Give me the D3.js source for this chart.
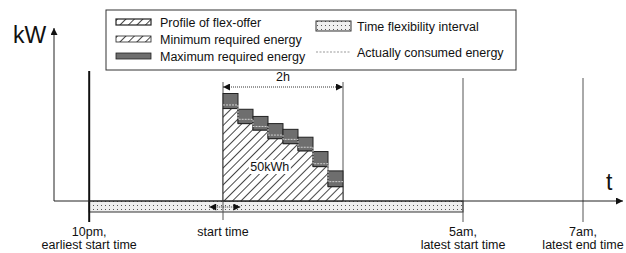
<!DOCTYPE html>
<html>
<head>
<meta charset="utf-8">
<script src="https://cdn.jsdelivr.net/npm/d3@7"></script>
<style>
  body { margin: 0; background: #fff; }
  text { font-family: "Liberation Sans", Arial, sans-serif; fill: #111; }
</style>
</head>
<body>
<script>
// flex-offer profile, 8 slices of 15 minutes (hours from start time)
var slices = [0, 0.25, 0.5, 0.75, 1, 1.25, 1.5, 1.75]
var minEnergy = [6.45, 5.4, 4.95, 4.35, 4.0, 3.5, 2.4, 1.0]
var maxEnergy = [7.5, 6.4, 5.9, 5.4, 5.0, 4.45, 3.45, 2.1]
var actualEnergy = [6.7, 5.7, 5.2, 4.6, 4.3, 3.75, 2.6, 1.35]

// time marks (hours from start time, schematic)
var tickHours = [-2.23, 0, 4, 6]
var tickLabels = [["10pm,", "earliest start time"], ["start time"], ["5am,", "latest start time"], ["7am,", "latest end time"]]

var legendLeft = ["Profile of flex-offer", "Minimum required energy", "Maximum required energy"]
var legendRight = ["Time flexibility interval", "Actually consumed energy"]

var width = 626, height = 253
var svg = d3.select("body").append("svg")
    .attr("width", width)
    .attr("height", height)

var x = d3.scaleLinear().domain([0, 6]).range([223, 583])
var y = d3.scaleLinear().domain([0, 12]).range([201, 29])
var step = 0.25

var defs = svg.append("defs")
var hatch = defs.append("pattern")
    .attr("id", "hatch")
    .attr("patternUnits", "userSpaceOnUse")
    .attr("width", 6).attr("height", 6)
    .attr("patternTransform", "rotate(45)")
hatch.append("rect").attr("width", 6).attr("height", 6).attr("fill", "#fff")
hatch.append("line").attr("x1", 0.5).attr("y1", 0).attr("x2", 0.5).attr("y2", 6)
    .attr("stroke", "#333").attr("stroke-width", 0.9)

var dots = defs.append("pattern")
    .attr("id", "dots")
    .attr("patternUnits", "userSpaceOnUse")
    .attr("width", 4).attr("height", 4)
dots.append("rect").attr("width", 4).attr("height", 4).attr("fill", "#efefef")
dots.append("rect").attr("x", 1).attr("y", 1).attr("width", 1).attr("height", 1).attr("fill", "#555")

var marker = function (id, dir) {
  defs.append("marker")
      .attr("id", id)
      .attr("viewBox", "0 0 10 10")
      .attr("refX", dir > 0 ? 10 : 0).attr("refY", 5)
      .attr("markerWidth", 11).attr("markerHeight", 7)
      .attr("markerUnits", "userSpaceOnUse")
      .attr("orient", "auto")
    .append("path")
      .attr("d", dir > 0 ? "M0,0L10,5L0,10Z" : "M10,0L0,5L10,10Z")
      .attr("fill", "#111")
}
marker("arrEnd", 1)
marker("arrStart", -1)

// time flexibility band
svg.append("rect")
    .attr("x", x(tickHours[0])).attr("y", y(0))
    .attr("width", x(tickHours[2]) - x(tickHours[0])).attr("height", 11)
    .attr("fill", "url(#dots)")
    .attr("stroke", "#333").attr("stroke-width", 1)

// vertical time lines
svg.append("line")
    .attr("x1", x(tickHours[0])).attr("x2", x(tickHours[0]))
    .attr("y1", 71).attr("y2", 222)
    .attr("stroke", "#111").attr("stroke-width", 2)
svg.selectAll(".vline")
    .data(tickHours.slice(2))
    .enter().append("line")
    .attr("x1", function (d) { return x(d) }).attr("x2", function (d) { return x(d) })
    .attr("y1", 78).attr("y2", 222)
    .attr("stroke", "#555").attr("stroke-width", 1)
svg.append("line")
    .attr("x1", x(0)).attr("x2", x(0))
    .attr("y1", 82).attr("y2", 220)
    .attr("stroke", "#555").attr("stroke-width", 1)
svg.append("line")
    .attr("x1", x(2)).attr("x2", x(2))
    .attr("y1", 82).attr("y2", y(0))
    .attr("stroke", "#555").attr("stroke-width", 1)

// hatched minimum profile
var area = d3.area()
    .x(function (d) { return x(d[0]) })
    .y0(y(0))
    .y1(function (d) { return y(d[1]) })
    .curve(d3.curveStepAfter)
var minPts = slices.map(function (s, i) { return [s, minEnergy[i]] })
minPts.push([2, minEnergy[minEnergy.length - 1]])
svg.append("path")
    .attr("d", area(minPts))
    .attr("fill", "url(#hatch)")
    .attr("stroke", "#333").attr("stroke-width", 1)

// maximum energy boxes
svg.selectAll(".maxbox")
    .data(slices)
    .enter().append("rect")
    .attr("x", function (d) { return x(d) })
    .attr("y", function (d, i) { return y(maxEnergy[i]) })
    .attr("width", x(step) - x(0))
    .attr("height", function (d, i) { return y(minEnergy[i]) - y(maxEnergy[i]) })
    .attr("fill", "#6e6e6e")
    .attr("stroke", "#222").attr("stroke-width", 1)

// actually consumed energy
var line = d3.line()
    .x(function (d) { return x(d[0]) })
    .y(function (d) { return y(d[1]) })
    .curve(d3.curveStepAfter)
var actPts = slices.map(function (s, i) { return [s, actualEnergy[i]] })
actPts.push([2, actualEnergy[actualEnergy.length - 1]])
svg.append("path")
    .attr("d", line(actPts))
    .attr("fill", "none")
    .attr("stroke", "#d0d0d0").attr("stroke-width", 1)
    .attr("stroke-dasharray", "2,1")

// 50kWh label
var lbl = svg.append("g").attr("transform", "translate(" + x(0.78) + "," + 171 + ")")
lbl.append("rect").attr("x", -21).attr("y", -11).attr("width", 42).attr("height", 14).attr("fill", "#fff")
lbl.append("text").attr("text-anchor", "middle").attr("font-size", 12.5).text("50kWh")

// 2h arrow
svg.append("line")
    .attr("x1", x(0)).attr("x2", x(2))
    .attr("y1", 87).attr("y2", 87)
    .attr("stroke", "#333").attr("stroke-dasharray", "1,1")
    .attr("marker-start", "url(#arrStart)").attr("marker-end", "url(#arrEnd)")
svg.append("text")
    .attr("x", x(1)).attr("y", 81)
    .attr("text-anchor", "middle").attr("font-size", 12.5)
    .text("2h")

// start time flexibility arrow
svg.append("line")
    .attr("x1", x(-0.23)).attr("x2", x(0.29))
    .attr("y1", 207).attr("y2", 207)
    .attr("stroke", "#333").attr("stroke-dasharray", "1,1")
    .attr("marker-start", "url(#arrStart)").attr("marker-end", "url(#arrEnd)")

// axes
svg.append("line")
    .attr("x1", 54).attr("x2", 623)
    .attr("y1", y(0)).attr("y2", y(0))
    .attr("stroke", "#222").attr("stroke-width", 1)
    .attr("marker-end", "url(#arrEnd)")
svg.append("line")
    .attr("x1", 54).attr("x2", 54)
    .attr("y1", y(0)).attr("y2", 28)
    .attr("stroke", "#222").attr("stroke-width", 1)
    .attr("marker-end", "url(#arrEnd)")
svg.append("text").attr("x", 13).attr("y", 43).attr("font-size", 23).text("kW")
svg.append("text").attr("x", 606).attr("y", 190).attr("font-size", 23).text("t")

// tick labels
var tl = svg.selectAll(".tlabel")
    .data(tickHours)
    .enter().append("text")
    .attr("text-anchor", "middle")
    .attr("font-size", 12.5)
    .attr("transform", function (d) { return "translate(" + x(d) + ",236)" })
tl.selectAll("tspan")
    .data(function (d, i) { return tickLabels[i] })
    .enter().append("tspan")
    .attr("x", 0)
    .attr("dy", function (d, i) { return i === 0 ? 0 : 13 })
    .text(function (d) { return d })

// legend
var lg = svg.append("g")
lg.append("rect")
    .attr("x", 106).attr("y", 10).attr("width", 410).attr("height", 60)
    .attr("fill", "#fff").attr("stroke", "#333").attr("stroke-width", 1)
var rowY = [22, 39, 56]
legendLeft.forEach(function (t, i) {
  lg.append("rect")
      .attr("x", 116).attr("y", rowY[i] - 3).attr("width", 35).attr("height", 6)
      .attr("fill", i === 2 ? "#6e6e6e" : "url(#hatch)")
      .attr("stroke", "#222").attr("stroke-width", i === 0 ? 1.2 : 0.8)
  lg.append("text")
      .attr("x", 160).attr("y", rowY[i] + 4.5)
      .attr("font-size", 12.5).text(t)
})
lg.append("rect")
    .attr("x", 316).attr("y", 21).attr("width", 35).attr("height", 10)
    .attr("fill", "url(#dots)").attr("stroke", "#333").attr("stroke-width", 1)
lg.append("line")
    .attr("x1", 316).attr("x2", 350).attr("y1", 52).attr("y2", 52)
    .attr("stroke", "#999").attr("stroke-dasharray", "2,1.5")
legendRight.forEach(function (t, i) {
  lg.append("text")
      .attr("x", 357).attr("y", [30.5, 56.5][i])
      .attr("font-size", 12.5).text(t)
})
</script>
</body>
</html>
